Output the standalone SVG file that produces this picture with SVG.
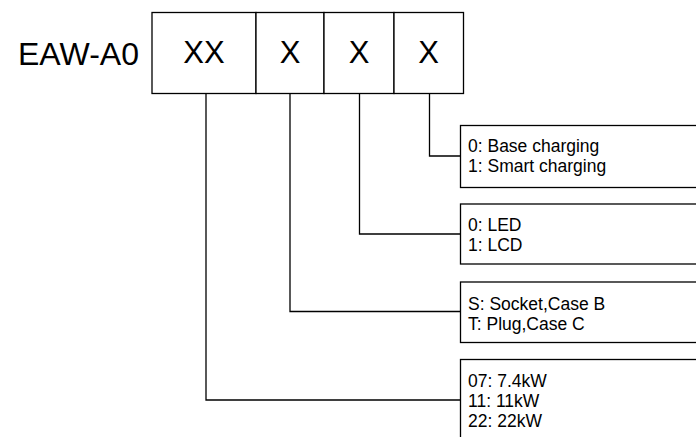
<svg xmlns="http://www.w3.org/2000/svg" width="696" height="437" viewBox="0 0 696 437">
<style>
.box{fill:#fff;stroke:#000;stroke-width:1.3}
.big{font-family:"Liberation Sans",Arial,sans-serif;font-size:31px;fill:#000;text-anchor:middle}
.t{font-family:"Liberation Sans",Arial,sans-serif;font-size:17.5px;fill:#000}
.c{fill:none;stroke:#000;stroke-width:1.3}
</style>
<rect width="696" height="437" fill="#fff"/>
<g id="prefix"><text x="18" y="65" class="big" style="text-anchor:start;font-size:32px">EAW-A0</text></g>
<g id="xx"><rect class="box" x="152" y="12.5" width="104" height="81"/><text class="big" x="204" y="62.5">XX</text></g>
<g id="x1"><rect class="box" x="256" y="12.5" width="68" height="81"/><text class="big" x="290" y="62.5">X</text></g>
<g id="x2"><rect class="box" x="324" y="12.5" width="70" height="81"/><text class="big" x="359" y="62.5">X</text></g>
<g id="x3"><rect class="box" x="394" y="12.5" width="69.5" height="81"/><text class="big" x="428.7" y="62.5">X</text></g>
<g id="charging"><rect class="box" x="460.5" y="125.5" width="300" height="62"/>
<text class="t" x="468" y="151.5">0: Base charging</text><text class="t" x="468" y="171.5">1: Smart charging</text></g>
<g id="display"><rect class="box" x="460.5" y="204" width="300" height="60"/>
<text class="t" x="468" y="231">0: LED</text><text class="t" x="468" y="251">1: LCD</text></g>
<g id="socket"><rect class="box" x="460.5" y="282" width="300" height="60.5"/>
<text class="t" x="468" y="310">S: Socket,Case B</text><text class="t" x="468" y="330">T: Plug,Case C</text></g>
<g id="power"><rect class="box" x="460.5" y="359.5" width="300" height="120"/>
<text class="t" x="468" y="387">07: 7.4kW</text><text class="t" x="468" y="407">11: 11kW</text><text class="t" x="468" y="427">22: 22kW</text></g>
<g id="connectors">
<polyline class="c" points="429.5,93.5 429.5,156 460.5,156"/>
<polyline class="c" points="359.5,93.5 359.5,234 460.5,234"/>
<polyline class="c" points="290,93.5 290,311.5 460.5,311.5"/>
<polyline class="c" points="206,93.5 206,400 460.5,400"/>
</g>
</svg>
